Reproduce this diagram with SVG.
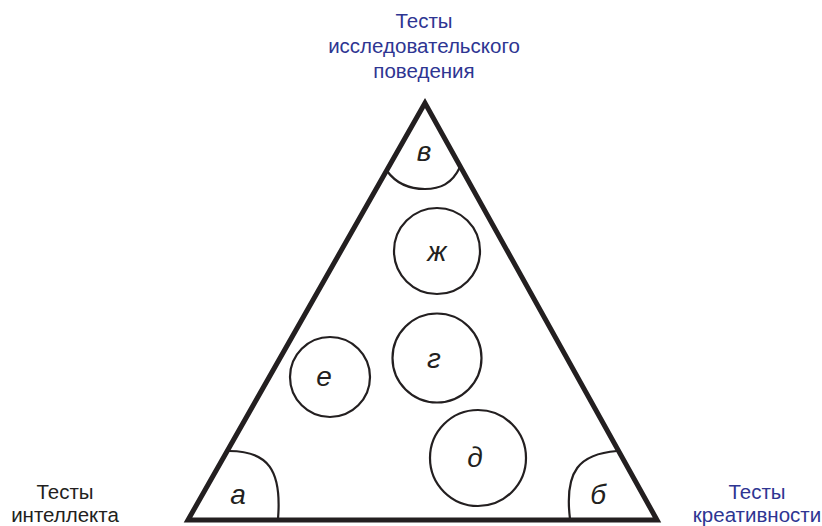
<svg xmlns="http://www.w3.org/2000/svg" width="822" height="526" viewBox="0 0 822 526">
<style>
.lbl{font-family:"Liberation Sans",Arial,sans-serif;font-size:20.5px;text-anchor:middle}
.blue{fill:#2e3592}
.blk{fill:#231f20}
.let{font-family:"Liberation Sans",Arial,sans-serif;font-size:28px;font-style:italic;text-anchor:middle;fill:#231f20}
.c{fill:none;stroke:#231f20;stroke-width:2.2}
</style>
<rect width="822" height="526" fill="#fff"/>
<g id="triangle">
<polygon points="425,103 188,520 657,520" fill="none" stroke="#231f20" stroke-width="5" stroke-linejoin="miter"/>
</g>
<g id="connectors">
<path class="c" d="M387,171 C398,186 412,189 425,189 C440,189 452,184 460,167"/>
<path class="c" d="M229,451 C268,451 282,470 278,519"/>
<path class="c" d="M617,451 C580,454 564,470 570,519"/>
</g>
<g id="node-v"><text class="let" x="424" y="161">в</text></g>
<g id="node-a"><text class="let" x="238" y="504">а</text></g>
<g id="node-b"><text class="let" x="598" y="504">б</text></g>
<g id="node-zh"><circle class="c" cx="437" cy="251" r="43"/><text class="let" x="437" y="261">ж</text></g>
<g id="node-g"><circle class="c" cx="437" cy="358" r="44.5"/><text class="let" x="434" y="368">г</text></g>
<g id="node-e"><circle class="c" cx="330" cy="377" r="40"/><text class="let" x="324" y="386">е</text></g>
<g id="node-d"><circle class="c" cx="478" cy="458" r="48"/><text class="let" x="475" y="467">д</text></g>
<g id="label-top">
<text class="lbl blue" x="424" y="28">Тесты</text>
<text class="lbl blue" x="424" y="53">исследовательского</text>
<text class="lbl blue" x="424" y="78">поведения</text>
</g>
<g id="label-left">
<text class="lbl blk" x="65" y="499">Тесты</text>
<text class="lbl blk" x="65" y="522">интеллекта</text>
</g>
<g id="label-right">
<text class="lbl blue" x="757" y="499">Тесты</text>
<text class="lbl blue" x="757" y="522">креативности</text>
</g>
</svg>
